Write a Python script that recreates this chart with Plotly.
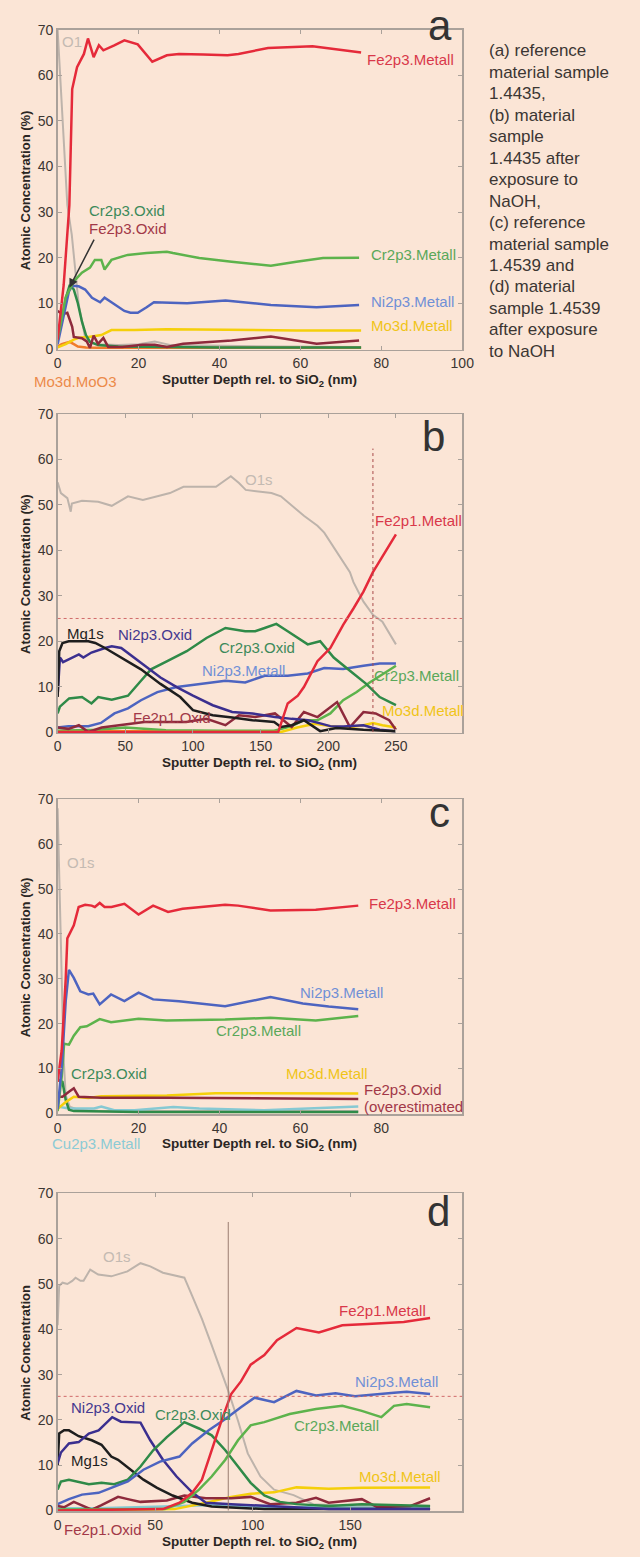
import plotly.graph_objects as go

# ---------------- DATA ----------------
TICKS_Y = [0, 10, 20, 30, 40, 50, 60, 70]
TICKS_X_A = [0, 20, 40, 60, 80, 100]
TICKS_X_B = [0, 50, 100, 150, 200, 250]
TICKS_X_C = [0, 20, 40, 60, 80]
TICKS_X_D = [0, 50, 100, 150]

# Panel a
A_O1S_X = [0, 1.2, 2.4, 3.5, 4.2, 5.2, 6.8, 8, 10, 15, 20, 24, 28, 40, 55, 75]
A_O1S_Y = [70, 51, 31.5, 25, 18, 9.8, 2.5, 1.5, 1, 0.8, 1, 1.6, 0.8, 0.6, 0.5, 0.4]
A_FE_M_X = [0, 1.5, 2.9, 3.6, 4.8, 6.5, 7.5, 8.9, 10.2, 11.3, 14, 16.5, 19.8, 23.4, 27, 30, 36, 42, 44.7, 52, 63, 75]
A_FE_M_Y = [2, 14, 31.5, 57, 61.8, 64.7, 68.1, 64, 66.6, 65.5, 66.6, 67.7, 66.8, 63, 64.4, 64.7, 64.6, 64.4, 64.7, 66, 66.4, 65]
A_CR_M_X = [0, 2, 4, 6, 8, 9.2, 10.8, 11.6, 13.3, 17.3, 22, 27, 28.5, 35, 43, 52.7, 59, 65.6, 74.5]
A_CR_M_Y = [2, 11.3, 14.8, 16.7, 17.8, 19.5, 19.5, 17.4, 19.5, 20.6, 21, 21.3, 21, 19.9, 19.1, 18.2, 19.1, 19.9, 20]
A_NI_M_X = [0, 1.6, 2.8, 3.6, 5.2, 6.8, 8.5, 10.5, 11.6, 13.3, 16.5, 18, 19.8, 22, 23.8, 32, 41.5, 52.7, 64, 74.5]
A_NI_M_Y = [1, 7.6, 12.6, 13.8, 13.7, 13, 11.2, 10.2, 11.2, 10.2, 8.3, 7.9, 7.9, 9.1, 10.2, 10, 10.6, 9.6, 9.1, 9.6]
A_MO_M_X = [0, 2, 4, 5.2, 7.6, 10.8, 13.3, 19, 27, 43, 59, 75]
A_MO_M_Y = [0.3, 1, 2, 2.4, 2.6, 3, 4.1, 4.1, 4.3, 4.1, 4, 4]
A_MO_O_X = [0, 1, 2, 3, 4, 5, 7, 10, 20, 40, 60, 75]
A_MO_O_Y = [0.5, 1, 1.3, 1.5, 1, 0.5, 0.3, 0.2, 0.2, 0.2, 0.2, 0.2]
A_CR_O_X = [0, 1, 2, 3, 4, 5, 6, 7, 8, 10, 15, 25, 40, 60, 75]
A_CR_O_Y = [2, 6, 11, 14, 13, 10, 6, 3, 1.5, 0.8, 0.5, 0.4, 0.3, 0.3, 0.3]
A_FE_O_X = [0, 1.2, 2.4, 3.6, 4, 6, 7.2, 8, 8.9, 10, 11.3, 12.5, 16, 21, 24, 27, 31, 43, 52.7, 59, 64, 74.5]
A_FE_O_Y = [8.3, 7.6, 7.9, 4.8, 2.6, 2.3, 1.6, 0.2, 2.9, 1.1, 2.4, 0.4, 0.4, 0.9, 0.9, 0.4, 1.1, 1.8, 2.7, 1.8, 1.1, 1.8]

# Panel b
B_O1S_X = [0, 2.4, 7.2, 9.7, 10.5, 18, 30, 40, 52, 63, 83, 93, 117, 128, 134, 139, 158, 165, 182, 192, 197, 206.5, 216, 218.6, 226, 233, 240, 250]
B_O1S_Y = [55, 52.6, 51.5, 48.5, 50.3, 50.9, 50.7, 49.8, 51.9, 51.1, 52.6, 54, 54, 56.3, 54.8, 53.3, 52.6, 51.9, 47.6, 45.4, 43.9, 39.6, 35.2, 33, 28.7, 25.8, 24.3, 19.3]
B_FE_M_X = [0, 163, 170, 177.5, 182, 192, 201.5, 211, 218.6, 226, 233, 250]
B_FE_M_Y = [0, 0, 6.3, 8, 9.9, 15.6, 18.5, 23.6, 27.2, 30.9, 35.2, 43.5]
B_MO_O_X = [0, 163]
B_MO_O_Y = [0.1, 0.1]
B_CR_M_X = [0, 30, 50, 80, 120, 160, 173, 182, 192, 201.5, 211, 221, 230.6, 240, 250]
B_CR_M_Y = [0.3, 0.5, 1, 0.4, 0.3, 0.3, 1.3, 2.6, 2.6, 4.1, 7, 8.8, 10.9, 12.7, 14.6]
B_MO_M_X = [0, 165, 177, 190, 201, 214, 226, 233, 240, 250]
B_MO_M_Y = [0, 0, 1, 1.8, 1.3, 1, 1.5, 2, 1.5, 1]
B_NI_M_X = [0, 8, 22.7, 32, 42, 52, 61.6, 73.7, 88, 105, 124, 138.6, 153, 170, 184.8, 197, 211, 226, 238, 250]
B_NI_M_Y = [1, 1.3, 1.3, 2, 4.1, 5.2, 7, 8.8, 9.9, 10.6, 11.3, 10.9, 12.4, 12.4, 12.9, 14.1, 13.9, 14.6, 15.1, 15.1]
B_FE_O_X = [0, 8, 15.7, 22.7, 32.6, 47, 64, 81, 95, 110, 124, 134, 146, 160.6, 173, 182, 192, 206.5, 216, 226, 235, 245, 250]
B_FE_O_Y = [1, 0.7, 1.5, 0, 1, 1.5, 2.2, 2.2, 2.2, 2.9, 1.5, 3.7, 3.3, 4.1, 1.1, 4.4, 3.3, 6.6, 1.1, 4.4, 4.1, 2.6, 0.5]
B_CR_O_X = [0, 1.7, 8.5, 18, 25, 30, 40, 52, 61.6, 69, 81, 95.4, 110, 124, 138.6, 146, 153, 161.6, 170, 184.8, 194, 204, 216, 228, 238, 250]
B_CR_O_Y = [4.1, 5.6, 7.4, 7.7, 6.3, 7.7, 7.1, 8, 11.3, 13.8, 15.6, 17.8, 20.7, 22.9, 22.2, 22.2, 22.9, 23.8, 22.2, 19.3, 20, 16.4, 13.5, 10.6, 7.7, 5.9]
B_NI_O_X = [0, 1.2, 1.7, 4, 8, 15.7, 19, 25, 35, 40, 47, 56.5, 66, 76, 88, 100, 114.6, 129, 144, 160.6, 173, 185, 194, 201.5, 211, 226, 238, 250]
B_NI_O_Y = [8, 15.6, 16.4, 15.4, 16, 17.1, 16.4, 17.5, 18.5, 18.9, 18.5, 16.4, 14.2, 12, 9.9, 8, 5.9, 4.4, 4.1, 3.3, 2.9, 2.6, 1.9, 1.3, 1.2, 1.5, 0.5, 0.2]
B_MG_X = [0, 1.2, 3.6, 8.2, 22.7, 27.8, 35, 47, 61.6, 76, 90.6, 100, 114.6, 129, 144, 160, 165, 173, 182, 194, 206, 226, 250]
B_MG_Y = [7.7, 17.8, 19.6, 20, 20, 19.6, 18.5, 16.4, 13.8, 10.6, 7.7, 4.8, 3.7, 3.2, 2.6, 2.2, 1.1, 1.5, 2.6, 0.2, 0.9, 0.5, 0.2]

# Panel c
C_O1S_X = [0, 0.5, 1, 1.5, 2, 3, 5, 10, 20, 40, 60, 74.3]
C_O1S_Y = [68, 50, 30, 12, 4, 1.5, 0.8, 0.6, 0.5, 0.5, 0.5, 0.5]
C_CU_M_X = [0, 2.8, 9, 10.8, 14, 19, 28.6, 35, 51, 63.8, 74.3]
C_CU_M_Y = [1.5, 1.1, 1.1, 1.5, 0.7, 0.7, 1.4, 1.1, 0.7, 1.1, 1.5]
C_CR_O_X = [0, 1.2, 2, 2.8, 4, 10, 20, 30, 40, 50, 60, 74.3]
C_CR_O_Y = [7.5, 7, 3, 0.8, 0.5, 0.4, 0.3, 0.3, 0.3, 0.3, 0.3, 0.3]
C_MO_M_X = [0, 2, 4, 7.6, 10.8, 27, 39, 51, 67, 74.3]
C_MO_M_Y = [1, 2.5, 3.7, 3.4, 3.8, 4, 4.5, 4.5, 4.4, 4.4]
C_FE_O_X = [0, 1.2, 2.8, 4, 5.2, 10.8, 27, 51, 74.3]
C_FE_O_Y = [3.7, 3.7, 4.8, 5.6, 3.7, 3.5, 3.5, 3.3, 3.2]
C_CR_M_X = [0, 1, 1.6, 2.8, 4, 5.6, 7.2, 10.4, 13.2, 20, 26.9, 41.4, 52.6, 63.8, 74.3]
C_CR_M_Y = [0.5, 8, 15.5, 15.3, 17.3, 19.2, 19.4, 21, 20.3, 21.1, 20.7, 20.9, 21.3, 20.7, 21.7]
C_NI_M_X = [0, 1, 2, 2.8, 4, 5.6, 7.6, 8.8, 10.4, 13.2, 16.5, 20, 23.6, 30, 41.4, 52.6, 60.6, 67, 74.3]
C_NI_M_Y = [1, 10, 25, 32, 30.2, 27.2, 26.5, 26.7, 24.3, 26.5, 25, 26.9, 25.4, 25, 23.9, 25.9, 24.5, 23.8, 23.2]
C_FE_M_X = [0, 1, 2, 2.4, 4, 5.2, 6.8, 8.4, 9.2, 10.4, 11.6, 13.3, 16.5, 20, 23.6, 27.3, 30.9, 41.4, 44.6, 52.6, 63.8, 74.3]
C_FE_M_Y = [7, 14, 30, 39, 41.9, 46, 46.5, 46.3, 46, 46.9, 46, 46, 46.7, 44.3, 46.3, 44.9, 45.6, 46.5, 46.3, 45.2, 45.4, 46.3]

# Panel d
D_O1S_X = [0, 0.8, 2.5, 5, 7.5, 9.2, 11.7, 13.3, 16.7, 20.8, 27.5, 35.8, 42.5, 47.5, 54, 65, 69, 74, 79, 84, 87.5, 92.5, 97.5, 104, 111, 121, 131, 156, 191]
D_O1S_Y = [40.9, 49.6, 50.3, 50, 50.7, 51.4, 50.7, 50.7, 53.2, 52.1, 51.7, 52.8, 54.6, 53.9, 52.5, 51.4, 47.4, 42.3, 36.5, 30.7, 26.4, 19.8, 12.6, 7.5, 4.6, 3.4, 1.4, 0.9, 1]
D_CU_M_X = [0, 20, 50, 80, 100, 130, 160, 191]
D_CU_M_Y = [0.5, 0.5, 0.8, 1.2, 0.8, 0.7, 0.6, 0.8]
D_MO_M_X = [0, 60, 76, 89, 99, 111, 122.5, 139, 156, 191]
D_MO_M_Y = [0, 0.3, 1.7, 3, 3.7, 4, 5.1, 4.8, 5, 5.1]
D_FE_O_X = [0, 3.3, 8.3, 12.5, 17.5, 22.5, 31, 36, 42.5, 56, 65, 76, 89, 99, 109, 122.5, 132.5, 139, 149, 156, 164, 172.5, 181, 191]
D_FE_O_Y = [1, 0.7, 1.9, 1.2, 0.2, 1.2, 3, 2.5, 1.9, 2.2, 3.3, 2.7, 2.7, 3, 1.4, 1.7, 2.8, 1.7, 2.2, 2.5, 0.7, 0.9, 1, 2.7]
D_MG_X = [0, 0.8, 3.3, 5.8, 10.8, 17.5, 22.5, 27.5, 31, 37.5, 44, 51, 59, 69, 79, 106, 191]
D_MG_Y = [10, 17, 17.7, 17.7, 16.4, 15.5, 14.5, 11.9, 11.2, 9, 6.8, 5, 3.3, 1.7, 0.9, 0.3, 0.3]
D_NI_O_X = [0, 1.7, 5.8, 10.8, 16, 21, 28, 32.5, 42.5, 47.5, 54, 61, 69, 76, 89, 106, 122.5, 139, 191]
D_NI_O_Y = [10.4, 12.8, 14.8, 15.1, 17, 17.7, 20.6, 19.6, 19.4, 15.5, 11.2, 7.5, 4, 1.7, 1.4, 1, 0.7, 0.3, 0.3]
D_CR_O_X = [0, 1.7, 5.8, 16, 22.5, 29, 36, 42.5, 49, 56, 65, 72.5, 79, 86, 92.5, 99, 106, 114, 122.5, 139, 156, 191]
D_CR_O_Y = [4.6, 6.4, 6.8, 5.8, 6.1, 5.8, 6.8, 9.7, 13.3, 16.2, 19.5, 18.1, 16.6, 13.3, 9.7, 6.1, 3.3, 1.9, 1.4, 1, 1.4, 1]
D_NI_M_X = [0, 5.8, 12.5, 21, 27.5, 36, 44, 52.5, 62.5, 69, 77.5, 86, 94, 101, 111, 122.5, 132.5, 142.5, 152.5, 159, 172.5, 179, 191]
D_NI_M_Y = [1.4, 2.5, 3.5, 3.9, 5, 6.4, 9, 10.8, 11.9, 14.8, 17.7, 20.2, 22.8, 24.9, 23.9, 26.4, 25.4, 25.9, 25.2, 25.5, 26, 26.2, 25.7]
D_CR_M_X = [0, 55, 65, 72.5, 79, 86, 92.5, 99, 106, 119, 132.5, 146, 156, 166, 172.5, 179, 191]
D_CR_M_Y = [0.2, 0.3, 1.9, 4.6, 7.5, 11.2, 15.5, 18.8, 19.5, 21.3, 22.4, 23.1, 22, 20.6, 23.1, 23.5, 22.8]
D_FE_M_X = [0, 54, 62.5, 69, 74, 79, 84, 89, 94, 99, 106, 112.5, 122.5, 134, 146, 159, 177.5, 191]
D_FE_M_Y = [0, 0.3, 1.7, 3.9, 6.8, 13.3, 19.8, 25.7, 28.5, 32.2, 34.3, 37.6, 40.3, 39.3, 40.9, 41.2, 41.6, 42.5]

CAPTION_LINES = ["(a) reference", "material sample", "1.4435,", "(b) material", "sample",
                 "1.4435 after", "exposure to", "NaOH,", "(c) reference", "material sample",
                 "1.4539 and", "(d) material", "sample 1.4539", "after exposure", "to NaOH"]

# ---------------- STYLE ----------------
W, H = 640, 1557
BG = "#fbe5d6"
RED, GREY, GRN_M, GRN_O = "#e52a3a", "#bdb3ab", "#5db34c", "#2f8a48"
BLU_M, BLU_O, YEL, ORA = "#4d64c0", "#3b2f8f", "#f5cf0a", "#f07a2a"
MAR, BLK, CYA = "#8e2a3c", "#1e1e1e", "#86c9d3"
T_RED, T_GREY, T_GRN_M, T_GRN_O = "#d9384a", "#c4bab2", "#5aa85a", "#3d8a5a"
T_BLU_M, T_BLU_O, T_YEL, T_ORA = "#7090d6", "#44388f", "#f0c419", "#ec8a4a"
T_MAR, T_BLK, T_CYA = "#a23848", "#1e1e1e", "#8ccbd5"
FONT = "Liberation Sans, Arial, sans-serif"
AXC = "#aaa19a"
TXT = "#3b3633"

PX_LEFT, PX_RIGHT = 55, 470
PANELS = [
    dict(top=22, bottom=345, xr=[0, 100], xt=TICKS_X_A, letter="a", lpos=(447, 18)),
    dict(top=410, bottom=732, xr=[0, 299], xt=TICKS_X_B, letter="b", lpos=(441, 433)),
    dict(top=799, bottom=1117, xr=[0, 100], xt=TICKS_X_C, letter="c", lpos=(447, 812)),
    dict(top=1197, bottom=1518, xr=[0, 207.5], xt=TICKS_X_D, letter="d", lpos=(446, 1215)),
]


def fx(px):
    return px / W


def fy(py):
    return 1 - py / H


fig = go.Figure()
layout = dict(width=W, height=H, margin=dict(l=0, r=0, t=0, b=0),
              paper_bgcolor=BG, plot_bgcolor=BG, showlegend=False,
              font=dict(family=FONT, color=TXT))
annotations = []
shapes = []

for i, p in enumerate(PANELS):
    n = "" if i == 0 else str(i + 1)
    layout["xaxis" + n] = dict(domain=[fx(PX_LEFT), fx(PX_RIGHT)], anchor="y" + n, range=p["xr"],
                               tickvals=p["xt"], ticks="inside", ticklen=4, tickcolor=AXC,
                               showline=True, linecolor=AXC, linewidth=1.5, mirror="ticks",
                               showgrid=False, zeroline=False,
                               tickfont=dict(size=14, color=TXT, family=FONT))
    layout["yaxis" + n] = dict(domain=[fy(p["bottom"]), fy(p["top"])], anchor="x" + n, range=[-0.2, 70],
                               tickvals=TICKS_Y, ticks="inside", ticklen=4, tickcolor=AXC,
                               showline=True, linecolor=AXC, linewidth=1.5, mirror="ticks",
                               showgrid=False, zeroline=False,
                               tickfont=dict(size=14, color=TXT, family=FONT))
    annotations.append(dict(xref="paper", yref="paper", x=fx(262), y=fy(p["bottom"] + 31),
                            text="<b>Sputter Depth rel. to SiO<sub>2</sub> (nm)</b>", showarrow=False,
                            font=dict(size=13.5, color="#2a2623", family=FONT), xanchor="center", yanchor="middle"))
    ytitle = "<b>Atomic Concentration</b>" if i == 3 else "<b>Atomic Concentration (%)</b>"
    annotations.append(dict(xref="paper", yref="paper", x=fx(22), y=fy((p["top"] + p["bottom"]) / 2),
                            text=ytitle, showarrow=False, textangle=-90,
                            font=dict(size=13, color="#2a2623", family=FONT), xanchor="center", yanchor="middle"))
    annotations.append(dict(xref="paper", yref="paper", x=fx(p["lpos"][0]), y=fy(p["lpos"][1]),
                            text=p["letter"], showarrow=False,
                            font=dict(size=42, color="#333333", family=FONT), xanchor="center", yanchor="middle"))


def line(ax, xs, ys, color, width=2.5):
    n = "" if ax == 1 else str(ax)
    fig.add_trace(go.Scatter(x=xs, y=ys, mode="lines", line=dict(color=color, width=width),
                             xaxis="x" + n, yaxis="y" + n, hoverinfo="skip"))


def label(ax, text, x, y, color, anchor="left"):
    n = "" if ax == 1 else str(ax)
    annotations.append(dict(xref="x" + n, yref="y" + n, x=x, y=y, text=text, showarrow=False,
                            xanchor=anchor, yanchor="middle", font=dict(size=15, color=color, family=FONT)))


def plabel(text, px, py, color):
    annotations.append(dict(xref="paper", yref="paper", x=fx(px), y=fy(py), text=text, showarrow=False,
                            xanchor="center", yanchor="middle", font=dict(size=15, color=color, family=FONT)))


# Panel a
line(1, A_O1S_X, A_O1S_Y, GREY, 2)
line(1, A_MO_O_X, A_MO_O_Y, ORA)
line(1, A_MO_M_X, A_MO_M_Y, YEL)
line(1, A_CR_O_X, A_CR_O_Y, GRN_O)
line(1, A_FE_O_X, A_FE_O_Y, MAR)
line(1, A_NI_M_X, A_NI_M_Y, BLU_M)
line(1, A_CR_M_X, A_CR_M_Y, GRN_M)
line(1, A_FE_M_X, A_FE_M_Y, RED)
label(1, "O1", 0.5, 67.4, T_GREY)
label(1, "Fe2p3.Metall", 76, 63.5, T_RED)
label(1, "Cr2p3.Metall", 77, 20.6, T_GRN_M)
label(1, "Ni2p3.Metall", 77, 10.4, T_BLU_M)
label(1, "Mo3d.Metall", 77, 5.0, T_YEL)
label(1, "Cr2p3.Oxid", 7.2, 30.4, T_GRN_O)
label(1, "Fe2p3.Oxid", 7.2, 26.5, T_MAR)
plabel("Mo3d.MoO3", 73, 377, T_ORA)
annotations.append(dict(xref="x", yref="y", axref="x", ayref="y", x=2.9, y=13.4, ax=9.2, ay=24.3,
                        text="", showarrow=True, arrowhead=2, arrowsize=1.2, arrowwidth=1.5,
                        arrowcolor="#333333"))

# Panel b
line(2, B_O1S_X, B_O1S_Y, GREY, 2)
line(2, B_MO_O_X, B_MO_O_Y, ORA, 3)
line(2, B_CR_M_X, B_CR_M_Y, GRN_M)
line(2, B_MO_M_X, B_MO_M_Y, YEL)
line(2, B_NI_M_X, B_NI_M_Y, BLU_M)
line(2, B_FE_O_X, B_FE_O_Y, MAR)
line(2, B_CR_O_X, B_CR_O_Y, GRN_O)
line(2, B_NI_O_X, B_NI_O_Y, BLU_O)
line(2, B_MG_X, B_MG_Y, BLK)
line(2, B_FE_M_X, B_FE_M_Y, RED)
label(2, "O1s", 149, 55.6, T_GREY, "center")
label(2, "Fe2p1.Metall", 233, 46.5, T_RED)
label(2, "Mg1s", 5.8, 21.7, T_BLK)
label(2, "Ni2p3.Oxid", 43.5, 21.5, T_BLU_O)
label(2, "Cr2p3.Oxid", 118, 18.7, T_GRN_O)
label(2, "Ni2p3.Metall", 105, 13.5, T_BLU_M)
label(2, "Cr2p3.Metall", 232, 12.4, T_GRN_M)
label(2, "Mo3d.Metall", 238, 4.8, T_YEL)
label(2, "Fe2p1.Oxid", 54, 3.3, T_MAR)
shapes.append(dict(type="line", xref="x2", yref="y2", x0=0, x1=299, y0=25, y1=25,
                   line=dict(color="#d06a6a", width=1, dash="dot")))
shapes.append(dict(type="line", xref="x2", yref="y2", x0=233, x1=233, y0=0, y1=62.4,
                   line=dict(color="#a84a4a", width=1, dash="dot")))

# Panel c
line(3, C_O1S_X, C_O1S_Y, GREY, 2)
line(3, C_CU_M_X, C_CU_M_Y, CYA)
line(3, C_CR_O_X, C_CR_O_Y, GRN_O)
line(3, C_MO_M_X, C_MO_M_Y, YEL)
line(3, C_FE_O_X, C_FE_O_Y, MAR)
line(3, C_CR_M_X, C_CR_M_Y, GRN_M)
line(3, C_NI_M_X, C_NI_M_Y, BLU_M)
line(3, C_FE_M_X, C_FE_M_Y, RED)
label(3, "O1s", 1.7, 56, T_GREY)
label(3, "Fe2p3.Metall", 76.4, 46.7, T_RED)
label(3, "Ni2p3.Metall", 59.5, 26.9, T_BLU_M)
label(3, "Cr2p3.Metall", 38.6, 18.5, T_GRN_M)
label(3, "Cr2p3.Oxid", 2.9, 8.8, T_GRN_O)
label(3, "Mo3d.Metall", 55.9, 8.8, T_YEL)
label(3, "Fe2p3.Oxid", 75.2, 5.3, T_MAR)
label(3, "(overestimated", 75.2, 1.5, T_MAR)
plabel("Cu2p3.Metall", 94, 1147, T_CYA)

# Panel d
line(4, D_O1S_X, D_O1S_Y, GREY, 2)
line(4, D_CU_M_X, D_CU_M_Y, CYA)
line(4, D_MO_M_X, D_MO_M_Y, YEL)
line(4, D_FE_O_X, D_FE_O_Y, MAR)
line(4, D_MG_X, D_MG_Y, BLK)
line(4, D_NI_O_X, D_NI_O_Y, BLU_O)
line(4, D_CR_O_X, D_CR_O_Y, GRN_O)
line(4, D_NI_M_X, D_NI_M_Y, BLU_M)
line(4, D_CR_M_X, D_CR_M_Y, GRN_M)
line(4, D_FE_M_X, D_FE_M_Y, RED)
label(4, "O1s", 30.5, 56, T_GREY, "center")
label(4, "Fe2p1.Metall", 143.5, 44.1, T_RED)
label(4, "Ni2p3.Metall", 151.5, 28.5, T_BLU_M)
label(4, "Ni2p3.Oxid", 6, 22.8, T_BLU_O)
label(4, "Cr2p3.Oxid", 49, 21.3, T_GRN_O)
label(4, "Cr2p3.Metall", 120, 18.7, T_GRN_M)
label(4, "Mg1s", 6, 11.1, T_BLK)
label(4, "Mo3d.Metall", 153.5, 7.6, T_YEL)
plabel("Fe2p1.Oxid", 102, 1536, T_MAR)
shapes.append(dict(type="line", xref="x4", yref="y4", x0=0, x1=207.5, y0=25.2, y1=25.2,
                   line=dict(color="#d06a6a", width=1, dash="dot")))
shapes.append(dict(type="line", xref="x4", yref="y4", x0=87.5, x1=87.5, y0=0, y1=63.7,
                   line=dict(color="#9a7c70", width=1)))

# Caption on the right
for k, t in enumerate(CAPTION_LINES):
    annotations.append(dict(xref="paper", yref="paper", x=fx(495), y=fy(43 + 21.7 * k), text=t,
                            showarrow=False, xanchor="left", yanchor="middle",
                            font=dict(size=17, color=TXT, family=FONT)))

layout["annotations"] = annotations
layout["shapes"] = shapes
fig.update_layout(**layout)
fig.write_html("out.html",
               config={"displayModeBar": False, "staticPlot": True},
               post_script="document.body.style.margin='0';document.body.style.overflow='hidden';"
                           "document.body.style.background='" + BG + "';")
